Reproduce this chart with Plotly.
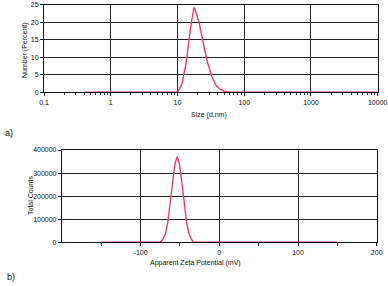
import plotly.graph_objects as go

# ---- data ----
size_nm = [0.4, 1.0, 10.1, 11.7, 13.5, 15.7, 17.6, 18.2, 21.0, 24.4, 28.2, 32.7, 37.8, 43.8, 50.7, 58.8, 68.1, 100, 1000, 10000]
number_pct = [0, 0, 0, 2.5, 8.5, 18.5, 24.2, 23.8, 20.0, 14.0, 8.5, 4.5, 2.0, 0.8, 0.3, 0.08, 0, 0, 0, 0]

zeta_mv = [-150, -75.5, -71.5, -68.5, -65.5, -62.5, -59.5, -56.5, -53.5, -50.5, -47.5, -44.5, -41.5, -38.5, -35.5, -32.5, 150]
total_counts = [0, 0, 13600, 37000, 85000, 162000, 257000, 337000, 371000, 337000, 257000, 162000, 85000, 37000, 13600, 0, 0]

size_ticks = [0.1, 1, 10, 100, 1000, 10000]
size_ticktext = ["0.1", "1", "10", "100", "1000", "10000"]
pct_ticks = [0, 5, 10, 15, 20, 25]
zeta_ticks = [-100, 0, 100, 200]
zeta_ticktext = ["-100", "0", "100", "200"]
count_ticks = [0, 100000, 200000, 300000, 400000]
count_ticktext = ["0", "100000", "200000", "300000", "400000"]

RED = "#f03c64"
FONT = "Liberation Sans"
W, H = 388, 286

fig = go.Figure()
fig.add_trace(go.Scatter(x=size_nm, y=number_pct, mode="lines",
                         line=dict(color=RED, width=1.4), cliponaxis=False,
                         xaxis="x", yaxis="y", showlegend=False))
fig.add_trace(go.Scatter(x=zeta_mv, y=total_counts, mode="lines",
                         line=dict(color=RED, width=1.4), cliponaxis=False,
                         xaxis="x2", yaxis="y2", showlegend=False))

def px_x(v):
    return v / W

def px_y(v):
    return 1 - v / H

minor_log = [m * 10 ** e for e in range(-1, 4) for m in range(2, 10)]

axis_common = dict(showline=True, linecolor="#111", linewidth=1, mirror=True,
                   showgrid=True, gridcolor="#222", gridwidth=1,
                   ticks="outside", ticklen=3, tickcolor="#111",
                   tickfont=dict(family=FONT, size=7, color="#111"),
                   zeroline=False, fixedrange=True, automargin=False)

fig.update_layout(
    width=W, height=H, margin=dict(l=0, r=0, t=0, b=0, autoexpand=False),
    paper_bgcolor="white", plot_bgcolor="white",
    xaxis=dict(axis_common, type="log", range=[-1, 4],
               domain=[px_x(44), px_x(377.7)], anchor="y",
               tickmode="array", tickvals=size_ticks, ticktext=size_ticktext,
               minor=dict(tickmode="array", tickvals=minor_log, ticks="outside",
                          ticklen=2, tickcolor="#333", showgrid=False)),
    yaxis=dict(axis_common, range=[0, 25], domain=[px_y(92.3), px_y(4.7)],
               anchor="x", tickmode="array", tickvals=pct_ticks),
    xaxis2=dict(axis_common, range=[-200, 200],
                domain=[px_x(61.9), px_x(376.7)], anchor="y2",
                tickmode="array", tickvals=zeta_ticks, ticktext=zeta_ticktext,
                minor=dict(tickmode="array", tickvals=[-150, -50, 50, 150],
                           ticks="outside", ticklen=3, tickcolor="#333", showgrid=False)),
    yaxis2=dict(axis_common, range=[0, 400000], domain=[px_y(242.3), px_y(150)],
                anchor="x2", tickmode="array", tickvals=count_ticks, ticktext=count_ticktext),
)

ann_font = dict(family=FONT, size=7, color="#111")
ann_common = dict(xref="paper", yref="paper", xanchor="center", yanchor="middle", showarrow=False)
fig.add_annotation(text="Number (Percent)", x=px_x(25), y=px_y(50), textangle=-90, font=ann_font, **ann_common)
fig.add_annotation(text="Size (d.nm)", x=px_x(209), y=px_y(115), font=ann_font, **ann_common)
fig.add_annotation(text="Total Counts", x=px_x(30), y=px_y(196), textangle=-90, font=ann_font, **ann_common)
fig.add_annotation(text="Apparent Zeta Potential (mV)", x=px_x(195), y=px_y(263), font=ann_font, **ann_common)
fig.add_annotation(text="a)", x=px_x(9), y=px_y(133), font=dict(family=FONT, size=9, color="#111"), **ann_common)
fig.add_annotation(text="b)", x=px_x(11), y=px_y(277), font=dict(family=FONT, size=9, color="#111"), **ann_common)

fig.write_html("out.html", config={"displayModeBar": False},
               post_script="document.body.style.margin='0';document.body.style.overflow='hidden';")
